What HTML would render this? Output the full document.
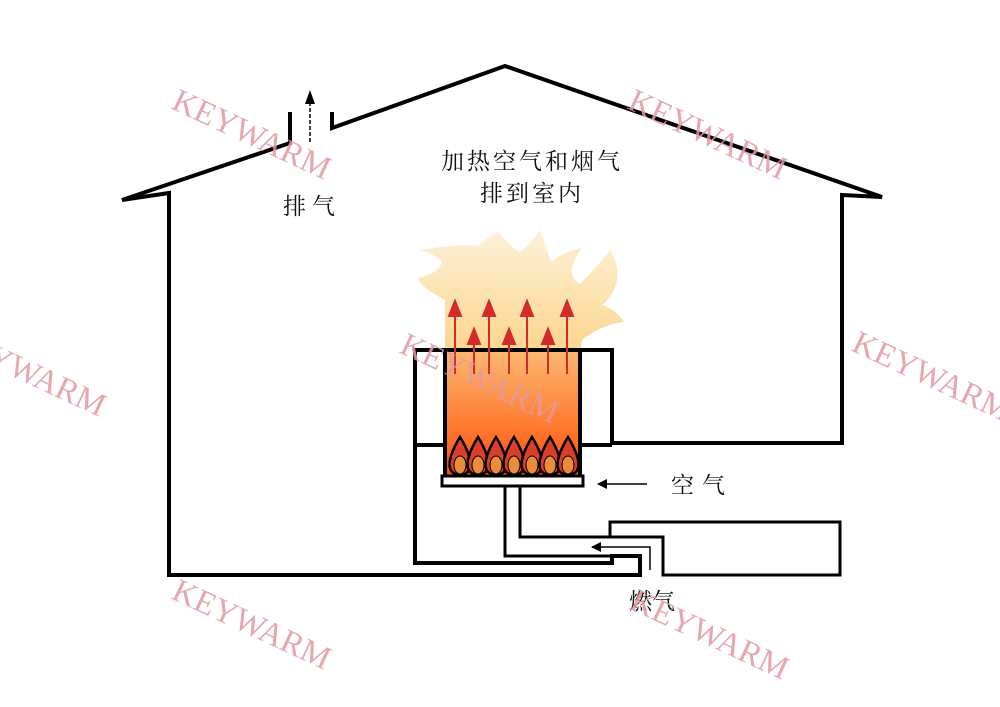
<!DOCTYPE html>
<html><head><meta charset="utf-8"><style>
html,body{margin:0;padding:0;background:#fff;}
svg{display:block}
text.cn{font-family:"Liberation Serif","Noto Serif CJK SC",serif;font-size:23px;fill:#111;}
text.wm{font-family:"Liberation Serif",serif;font-size:33px;fill:#e39a9f;opacity:0.85;}
</style></head><body>
<svg width="1000" height="707" viewBox="0 0 1000 707" xmlns="http://www.w3.org/2000/svg">
<defs>
<linearGradient id="cloud" x1="0" y1="0" x2="0" y2="1">
<stop offset="0" stop-color="#fdf1d8"/><stop offset="1" stop-color="#fcd58e"/></linearGradient>
<linearGradient id="ch" x1="0" y1="0" x2="0" y2="1">
<stop offset="0" stop-color="#fcb770"/><stop offset="0.6" stop-color="#ff7a30"/><stop offset="1" stop-color="#ff4a10"/></linearGradient>
<marker id="ar" markerWidth="10" markerHeight="10" refX="9" refY="5" orient="auto" markerUnits="userSpaceOnUse"><path d="M0,0 L10,5 L0,10z" fill="#000"/></marker>
</defs>
<path d="M445,352 L445,300 C430,292 420,285 418,278 C435,274 440,268 442,262 C435,255 428,252 420,250 C445,246 460,244 478,246 C485,240 490,236 498,232 C506,240 512,248 520,252 C528,246 535,238 540,230 C546,245 548,258 552,262 C562,252 574,250 582,248 C572,262 566,276 580,284 C594,270 604,258 610,250 C622,268 620,290 602,305 C612,308 620,315 624,322 C606,324 592,332 582,340 L580,352 Z" fill="url(#cloud)"/>
<rect x="445" y="352" width="135" height="124" fill="url(#ch)"/>
<g stroke="#000" stroke-width="4" fill="none" stroke-linejoin="miter">
<polyline points="290,112 290,143 122,200 169,193 169,575 640,575 640,556 610,556"/>
<polyline points="332,112 332,128 505,66 882,197 842,195 842,443 612,443 612,350 415,350 415,563 612,563 612,556"/>
<line x1="445" y1="350" x2="445" y2="476"/>
<line x1="580" y1="350" x2="580" y2="476"/>
<line x1="415" y1="445" x2="445" y2="445"/>
<line x1="580" y1="445" x2="612" y2="445"/>
<rect x="442" y="476" width="141" height="10" stroke-width="3"/>
<polyline points="505,486 505,556 610,556" stroke-width="3"/>
<polyline points="520,486 520,537 610,537 610,522 840,522 840,575 663,575 663,537 610,537" stroke-width="3"/>
</g>
<g stroke="#000" stroke-width="2.5">
<g id="fl"><path d="M460,437 C452,450 448,462 450,468 C452,477 468,477 470,468 C472,462 468,450 460,437 Z" fill="#d8402a"/><ellipse cx="460" cy="465" rx="6" ry="9" fill="#ec8a3e" stroke-width="1"/></g>
<use href="#fl" x="18"/><use href="#fl" x="36"/><use href="#fl" x="54"/><use href="#fl" x="72"/><use href="#fl" x="90"/><use href="#fl" x="108"/>
</g>
<g stroke="#d42a2a" stroke-width="2" fill="#d42a2a">
<line x1="455" y1="374" x2="455" y2="312"/><path d="M449,316 L455,301 L461,316z"/>
<line x1="489" y1="374" x2="489" y2="312"/><path d="M483,316 L489,301 L495,316z"/>
<line x1="527" y1="374" x2="527" y2="312"/><path d="M521,316 L527,301 L533,316z"/>
<line x1="567" y1="374" x2="567" y2="312"/><path d="M561,316 L567,301 L573,316z"/>
<line x1="474" y1="374" x2="474" y2="340"/><path d="M468,344 L474,329 L480,344z"/>
<line x1="509" y1="374" x2="509" y2="340"/><path d="M503,344 L509,329 L515,344z"/>
<line x1="548" y1="374" x2="548" y2="340"/><path d="M542,344 L548,329 L554,344z"/>
</g>
<g stroke="#000" stroke-width="1.5" fill="none">
<line x1="310" y1="142" x2="310" y2="100" stroke-dasharray="4,2"/>
<line x1="647" y1="484" x2="598" y2="484" marker-end="url(#ar)"/>
<polyline points="650,570 650,547 592,547" marker-end="url(#ar)"/>
</g>
<path d="M305,104 L310,90 L315,104z" fill="#000"/>
<text class="cn" x="532" y="169" text-anchor="middle" letter-spacing="3">加热空气和烟气</text>
<text class="cn" x="532" y="201" text-anchor="middle" letter-spacing="3">排到室内</text>
<text class="cn" x="312" y="214" text-anchor="middle" letter-spacing="6">排气</text>
<text class="cn" x="702" y="493" text-anchor="middle" letter-spacing="8">空气</text>
<text class="cn" x="652" y="609" text-anchor="middle">燃气</text>
<text class="wm" transform="translate(170,108) rotate(25)">KEYWARM</text>
<text class="wm" transform="translate(626,108) rotate(25)">KEYWARM</text>
<text class="wm" transform="translate(398,352) rotate(25)">KEYWARM</text>
<text class="wm" transform="translate(850,350) rotate(25)">KEYWARM</text>
<text class="wm" transform="translate(-55,345) rotate(25)">KEYWARM</text>
<text class="wm" transform="translate(170,598) rotate(25)">KEYWARM</text>
<text class="wm" transform="translate(628,608) rotate(25)">KEYWARM</text>
</svg>
</body></html>
